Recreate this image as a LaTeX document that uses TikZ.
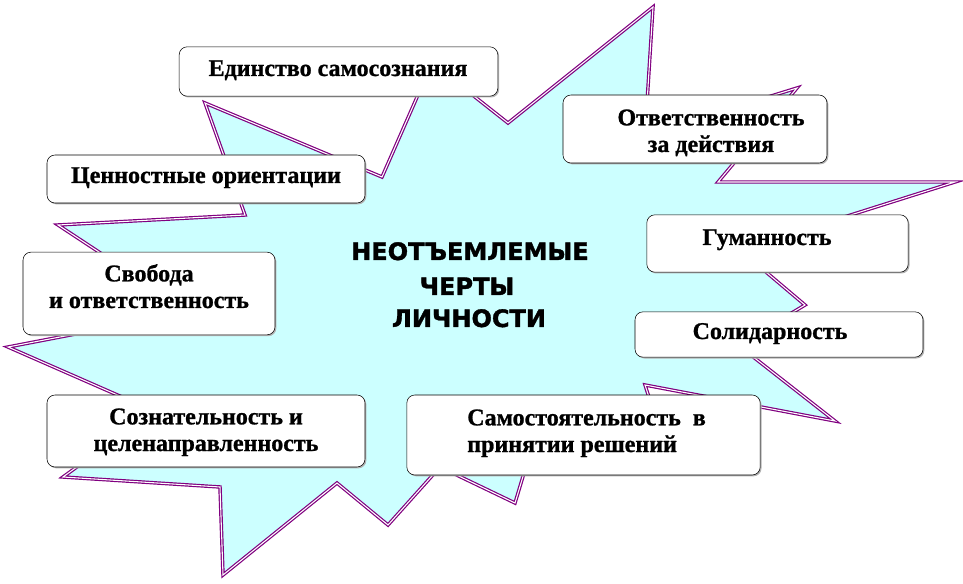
\documentclass[tikz,border=0pt]{standalone}
\usepackage{fontspec}
\setmainfont{Liberation Serif}[BoldFeatures={FakeBold=1}]
\newfontfamily\headfont{DejaVu Sans}[BoldFeatures={FakeBold=1.5}]
\usepackage{tikz}
\usetikzlibrary{shadows}
\definecolor{burstfill}{RGB}{204,255,255}
\definecolor{burstline}{RGB}{128,0,128}
\tikzset{
	burst/.style={draw=burstline, double=white, line width=0.9pt, double distance=0.8pt, fill=burstfill},
	feature/.style={draw, thin, fill=white, rounded corners=6pt,
			drop shadow={shadow xshift=1pt, shadow yshift=-1pt, fill=gray!60, opacity=1}},
	featuretext/.style={font=\bfseries\fontsize{18}{20}\selectfont, align=center, inner sep=0pt, anchor=base},
	title/.style={font=\headfont\bfseries\fontsize{18}{25}\selectfont, inner sep=0pt, anchor=base}
}

\begin{document}
\begin{tikzpicture}[x=0.75pt, y=-0.75pt]

			\useasboundingbox (0,0) rectangle (963,584);

			% Draw the burst
			\draw[burst] (205,103) -- (382,177) -- (432,63) -- (508,123) -- (653,7) -- (645,135)
				-- (797,88) -- (718,182) -- (955,182) -- (740,250) -- (805,305) -- (738,345)
				-- (835,421) -- (645,385) -- (668,455) -- (540,420) -- (515,503) -- (440,467)
				-- (388,525) -- (337,483) -- (223,575) -- (220,487) -- (63,477) -- (154,411)
				-- (8,347) -- (190,312) -- (58,225) -- (245,215) -- cycle;

			% Title in the middle
			\node[title] (t1) at (470,260) {НЕОТЪЕМЛЕМЫЕ};
			\node[title] (t2) at (467,295) {ЧЕРТЫ};
			\node[title] (t3) at (469,327) {ЛИЧНОСТИ};

			% Boxes round the burst
			\node[feature, minimum width=239pt, minimum height=37pt] (edinbox) at (338.5,71.5) {};
			\node[feature, minimum width=238.5pt, minimum height=36pt] (cennbox) at (206,179) {};
			\node[feature, minimum width=189pt, minimum height=62pt] (svobbox) at (149,293.5) {};
			\node[feature, minimum width=238.5pt, minimum height=54pt] (sozbox) at (206,431) {};
			\node[feature, minimum width=265pt, minimum height=60pt] (samobox) at (583.5,435) {};
			\node[feature, minimum width=198pt, minimum height=51pt] (otvbox) at (695,129) {};
			\node[feature, minimum width=196pt, minimum height=43pt] (gumanbox) at (777.5,243.5) {};
			\node[feature, minimum width=216pt, minimum height=34pt] (solidbox) at (779,334.5) {};

			% Texts in the boxes (base = last line)
			\node[featuretext] (edin) at (338,76) {Единство самосознания};
			\node[featuretext] (cenn) at (206,183) {Ценностные ориентации};
			\node[featuretext] (svob) at (149,308) {Свобода\\и ответственность};
			\node[featuretext] (soz) at (206,451) {Сознательность и\\целенаправленность};
			\node[featuretext, align=left, anchor=base west] (samo) at (467,452) {Самостоятельность\ \ в\\принятии решений};
			\node[featuretext] (otv) at (711,152) {Ответственность\\за действия};
			\node[featuretext] (guman) at (767,245) {Гуманность};
			\node[featuretext] (solid) at (770,339) {Солидарность};

		\end{tikzpicture}
\end{document}
